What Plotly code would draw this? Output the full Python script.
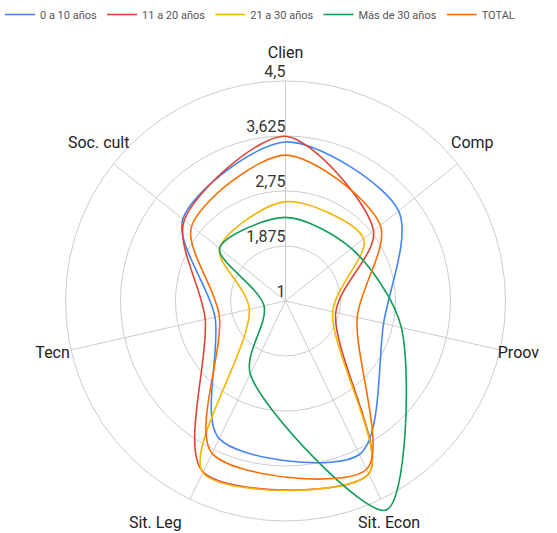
import plotly.graph_objects as go

categories = ["Clien", "Comp", "Proov", "Sit. Econ", "Sit. Leg", "Tecn", "Soc. cult"]

series_names = ["0 a 10 años", "11 a 20 años", "21 a 30 años", "Más de 30 años", "TOTAL"]
vals_0_10 = [3.53, 3.30, 2.60, 3.71, 3.43, 2.15, 3.09]
vals_11_20 = [3.62, 2.79, 1.82, 4.05, 4.02, 2.31, 3.06]
vals_21_30 = [2.58, 2.59, 1.77, 4.05, 4.03, 1.59, 2.34]
vals_mas_30 = [2.33, 2.34, 2.89, 4.69, 2.29, 1.35, 2.34]
vals_total = [3.32, 2.93, 2.17, 3.97, 3.69, 2.08, 2.91]

tick_vals = [1, 1.875, 2.75, 3.625, 4.5]
tick_text = ["1", "1,875", "2,75", "3,625", "4,5"]

colors = ["#4285F4", "#DB4437", "#F4B400", "#0F9D58", "#FF6D00"]
all_vals = [vals_0_10, vals_11_20, vals_21_30, vals_mas_30, vals_total]

GRID = "#cccccc"
R_MAX = 4.8
LABEL_R = tick_vals[-1] + 0.3
label_pos = ["top center", "top center", "middle center", "bottom center",
             "bottom left", "middle center", "top center"]

fig = go.Figure()

# spokes from the centre to the outer tick circle
spoke_r, spoke_t = [], []
for c in categories:
    spoke_r += [tick_vals[0], tick_vals[-1], None]
    spoke_t += [c, c, c]
fig.add_trace(go.Scatterpolar(
    r=spoke_r, theta=spoke_t, mode="lines",
    line=dict(color=GRID, width=1), showlegend=False, hoverinfo="skip",
))

for name, vals, col in zip(series_names, all_vals, colors):
    fig.add_trace(go.Scatterpolar(
        r=vals + vals[:1],
        theta=categories + categories[:1],
        mode="lines",
        name=name,
        line=dict(color=col, width=1.6, shape="spline", smoothing=0.85),
    ))

# radial tick labels, sitting just above each circle, left of the vertical spoke
fig.add_trace(go.Scatterpolar(
    r=tick_vals, theta=[categories[0]] * len(tick_vals),
    mode="text", text=tick_text, textposition="top left",
    textfont=dict(size=16, color="#333333", family="Roboto"),
    showlegend=False, hoverinfo="skip", cliponaxis=False,
))

# category labels around the outside
fig.add_trace(go.Scatterpolar(
    r=[LABEL_R] * len(categories), theta=categories,
    mode="text", text=categories, textposition=label_pos,
    textfont=dict(size=16, color="#222222", family="Roboto"),
    showlegend=False, hoverinfo="skip", cliponaxis=False,
))

fig.update_layout(
    width=557, height=545,
    margin=dict(l=0, r=0, t=0, b=0),
    paper_bgcolor="white",
    font=dict(family="Roboto", color="#222222"),
    showlegend=True,
    legend=dict(orientation="h", x=0.0, y=1.0, xanchor="left", yanchor="top",
                font=dict(size=11, color="#555555"), itemwidth=30),
    polar=dict(
        domain=dict(x=[0.08366, 0.94147], y=[0.00936, 0.88606]),
        bgcolor="white",
        angularaxis=dict(
            rotation=90, direction="clockwise",
            showline=False, showgrid=False, showticklabels=False,
            ticks="",
        ),
        radialaxis=dict(
            range=[1, R_MAX], tickvals=tick_vals,
            angle=90, showticklabels=False,
            showline=False, ticks="",
            gridcolor=GRID, gridwidth=1,
        ),
    ),
)

fig.write_html("out.html", config={"displayModeBar": False},
               post_script="document.body.style.margin='0px';document.body.style.overflow='hidden';")
